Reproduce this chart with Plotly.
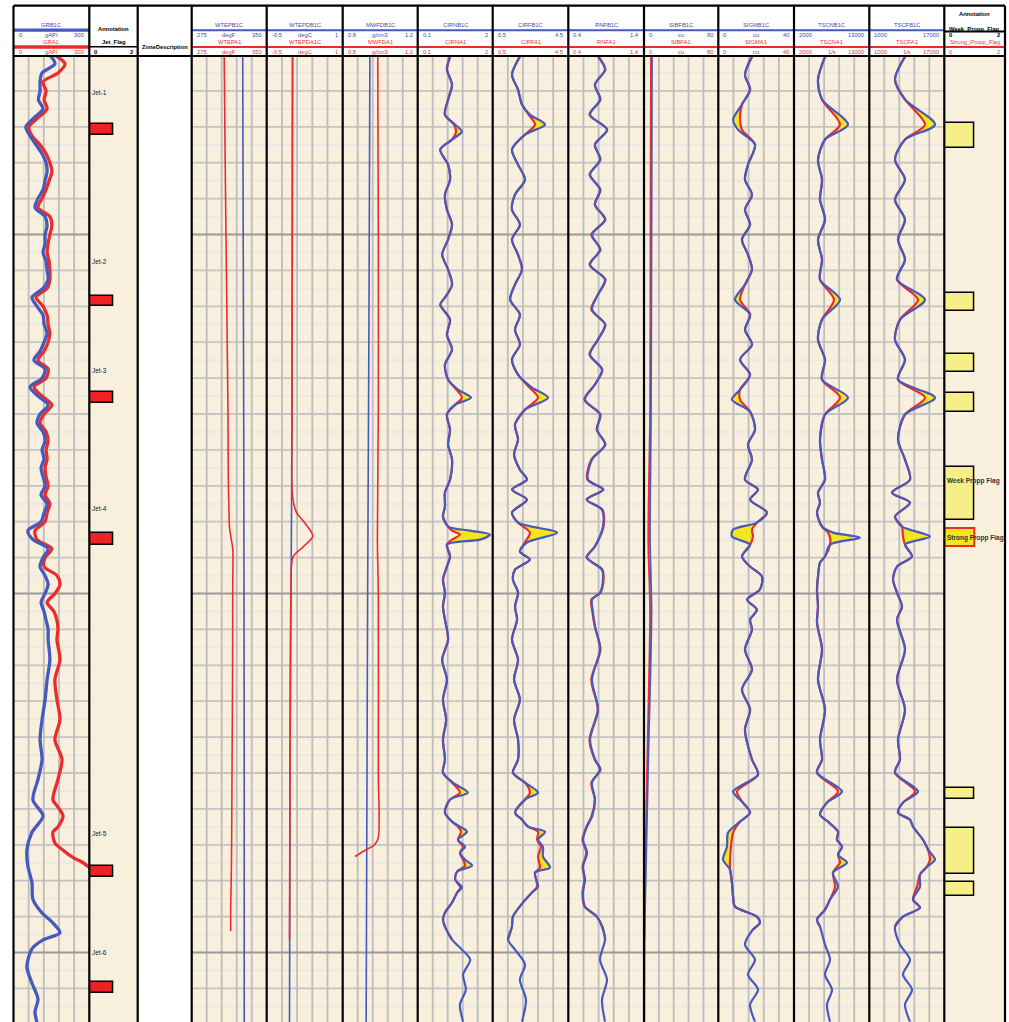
import plotly.graph_objects as go

# ---------------------------------------------------------------- data ----
# Depth is expressed in grid units (one minor grid division = 1 unit).

# Gamma ray (gAPI)
GR_DEPTH_B = [0, 0.5, 1, 1.5, 2, 2.5, 3, 3.5, 4, 4.5, 5, 5.5, 6, 6.5, 7, 7.5, 8, 8.5, 9, 9.5,
              10, 10.5, 11, 11.5, 12, 12.5, 13, 13.5, 14, 14.5, 15, 15.5, 16, 16.5, 17, 17.5,
              18, 18.5, 19, 19.5, 20, 20.5, 21, 21.5, 22, 22.5, 23, 23.5, 24, 24.5, 25, 25.5,
              26, 26.5, 27, 27.5, 28, 28.5, 29, 29.5, 30, 30.5, 31, 31.5, 32,
              32.57, 33.68, 34.8, 35.91, 37.03, 38.14, 39.25, 40.35, 41.5, 42.4, 43.3, 44.3,
              45.2, 46.1, 47.05, 47.8, 48.3, 48.9, 49.3, 49.8, 50.8, 51.7, 52.6, 53.3, 53.9]
GRB1C = [144, 164, 113, 105, 105, 99, 117, 81, 49, 65, 89, 113, 129, 133, 125, 117, 97, 85, 125, 133,
         125, 125, 117, 129, 133, 137, 117, 73, 93, 117, 121, 133, 121, 105, 81, 125,
         113, 65, 97, 137, 105, 93, 117, 125, 113, 121, 109, 117, 125, 109, 133, 121,
         109, 57, 77, 137, 117, 105, 125, 137, 125, 109, 121, 129, 137,
         137, 144, 133, 125, 113, 105, 113, 97, 77, 117, 73, 53,
         57, 73, 77, 113, 152, 184, 117, 73, 53, 73, 97, 85, 93]
GR_DEPTH_A = [0, 0.5, 1, 1.5, 2, 2.5, 3, 3.5, 4, 4.5, 5, 5.5, 6, 6.5, 7, 7.5, 8, 8.5, 9, 9.5,
              10, 10.5, 11, 11.5, 12, 12.5, 13, 13.5, 14, 14.5, 15, 15.5, 16, 16.5, 17, 17.5,
              18, 18.5, 19, 19.5, 20, 20.5, 21, 21.5, 22, 22.5, 23, 23.5, 24, 24.5, 25, 25.5,
              26, 26.5, 27, 27.5, 28, 28.5, 29, 29.5, 30, 30.5, 31, 31.5, 32,
              32.57, 33.68, 34.8, 35.91, 37.03, 38.14, 39.25, 40.35, 41.5, 41.9, 42.4, 43.0,
              43.3, 43.9, 44.3, 44.7, 45.0, 45.2, 45.4]
GRA1 = [164, 204, 176, 117, 129, 121, 133, 97, 61, 73, 105, 129, 144, 152, 141, 129, 113, 97, 144, 152,
        144, 137, 133, 141, 144, 144, 133, 89, 117, 133, 137, 144, 137, 121, 97, 137,
        129, 81, 113, 152, 121, 105, 129, 137, 129, 133, 125, 129, 137, 125, 144, 133,
        125, 85, 93, 152, 125, 121, 172, 184, 164, 133, 160, 172, 176,
        172, 184, 164, 172, 184, 164, 192, 176, 156, 176, 196, 176,
        156, 164, 196, 235, 275, 295, 315]

# Wellbore temperature (degF)
WTEP_DEPTH_B = [0, 10, 20, 30, 40, 53.9]
WTEPB1C = [326.0, 326.5, 327.0, 327.3, 327.5, 327.5]
WTEP_DEPTH_A = [0, 5, 10, 15, 20, 23.5, 25.5, 26.3, 26.9, 27.5, 30, 35, 40, 45, 47.5, 48.8]
WTEPA1 = [307.5, 308.3, 309.3, 310.3, 311.3, 311.6, 312.3, 312.8, 314.3, 316.0, 316.0, 315.8,
          315.3, 314.8, 314.0, 314.0]

# Temperature difference (degC)
WTEPD_DEPTH_B = [0, 20, 30, 40, 53.9]
WTEPDB1C = [0.01, 0.0, -0.02, -0.04, -0.05]
WTEPD_DEPTH_A = [0, 20, 24.6, 25.5, 26.1, 26.8, 27.4, 27.95, 30, 40, 49.3]
WTEPDA1C = [0.01, 0.0, 0.01, 0.09, 0.26, 0.41, 0.22, 0.02, -0.02, -0.04, -0.05]

# Wellbore fluid density (g/cm3)
MWFD_DEPTH_B = [0, 15, 30, 45, 53.9]
MWFDB1C = [0.945, 0.940, 0.933, 0.928, 0.925]
MWFD_DEPTH_A = [0, 10, 20, 27, 30, 40, 43.6, 44.0, 44.3, 44.65]
MWFDA1 = [0.987, 0.990, 0.990, 0.985, 0.990, 0.990, 0.990, 0.970, 0.920, 0.865]

# Near capture count rate ratio
CIRN_DEPTH = [0.09, 0.81, 1.65, 2.48, 3.32, 3.88, 4.27, 4.71, 5.27, 6.11, 6.94, 7.78, 8.61, 9.45,
              10.28, 11.12, 11.95, 12.79, 13.52, 13.90, 14.74, 15.58, 16.41, 17.25, 18.08, 18.64,
              19.09, 19.48, 20.03, 20.87, 21.70, 22.54, 23.65, 24.38, 25.16, 25.71, 26.27, 26.50,
              26.72, 27.00, 27.28, 27.94, 28.50, 29.22, 29.95, 30.73, 31.45, 32.57, 33.68, 34.80,
              35.91, 37.03, 38.14, 39.25, 39.98, 40.54, 41.09, 41.48, 42.21, 42.71, 42.99, 43.27,
              43.72, 44.11, 44.44, 44.83, 45.16, 45.49, 45.94, 46.38, 46.66, 47.22, 47.78, 48.17,
              48.56, 49.28, 49.84, 50.40, 51.23, 52.07, 52.90, 53.85]
CIRNB1C = [0.92, 0.84, 0.97, 0.87, 0.79, 1.05, 1.22, 0.97, 0.67, 0.87, 0.92, 0.79, 0.84, 0.97,
           0.87, 0.72, 0.87, 0.97, 0.79, 0.67, 0.92, 0.84, 0.97, 0.79, 0.87, 1.12,
           1.45, 1.05, 0.84, 0.92, 0.87, 0.97, 0.92, 0.79, 0.79, 0.74, 0.87, 1.43,
           1.93, 1.68, 0.84, 0.92, 0.84, 0.74, 0.79, 0.74, 0.79, 0.87, 0.72, 0.84,
           0.74, 0.82, 0.74, 0.79, 0.74, 0.99, 1.37, 0.92, 0.79, 0.97, 1.17, 1.35,
           1.12, 1.30, 1.17, 1.30, 1.48, 1.10, 1.05, 1.22, 1.10, 0.97, 0.79, 0.74,
           0.79, 0.97, 1.22, 1.43, 1.25, 1.32, 1.17, 1.25]
CIRNA1 = [0.92, 0.84, 0.97, 0.87, 0.79, 1.02, 1.07, 0.97, 0.67, 0.87, 0.92, 0.79, 0.84, 0.97,
          0.87, 0.72, 0.87, 0.97, 0.79, 0.67, 0.92, 0.84, 0.97, 0.79, 0.87, 1.08,
          1.22, 1.05, 0.84, 0.92, 0.87, 0.97, 0.92, 0.79, 0.79, 0.74, 0.87, 0.97,
          1.17, 0.97, 0.84, 0.92, 0.84, 0.74, 0.79, 0.74, 0.79, 0.87, 0.72, 0.84,
          0.74, 0.82, 0.74, 0.79, 0.74, 0.97, 1.17, 0.92, 0.79, 0.97, 1.12, 1.20,
          1.12, 1.25, 1.17, 1.25, 1.30, 1.10, 1.05, 1.18, 1.10, 0.97, 0.79, 0.74,
          0.79, 0.97]

# Far capture count rate ratio
CIRF_DEPTH = [0.09, 1.09, 1.93, 2.76, 3.32, 3.88, 4.43, 5.27, 6.11, 6.94, 7.78, 8.61, 9.45, 10.28,
              11.12, 11.95, 12.79, 13.63, 14.46, 15.30, 16.13, 16.97, 17.81, 18.53, 19.09, 19.76,
              20.59, 21.42, 22.26, 23.10, 23.65, 24.21, 24.77, 25.49, 26.05, 26.61, 27.16, 27.67,
              28.11, 28.67, 29.22, 29.95, 30.73, 31.45, 32.57, 33.68, 34.80, 35.91, 37.03, 38.14,
              39.25, 39.98, 40.54, 41.09, 41.48, 42.21, 42.60, 42.99, 43.27, 43.72, 44.11, 44.66,
              45.27, 45.55, 46.33, 46.66, 47.22, 48.00, 48.56, 49.28, 49.84, 50.67, 51.51, 52.63,
              53.85]
CIRFB1C = [1.94, 1.52, 1.84, 2.05, 2.47, 3.27, 2.21, 1.52, 1.84, 2.21, 1.68, 1.52, 1.94, 1.52,
           1.84, 2.05, 1.68, 1.42, 1.94, 1.68, 1.94, 1.52, 1.84, 2.58, 3.43, 2.21,
           1.68, 1.84, 1.63, 1.94, 2.31, 1.52, 2.31, 1.52, 1.84, 3.90, 2.31, 1.94,
           2.47, 1.68, 1.57, 1.84, 1.68, 1.79, 1.52, 1.84, 1.63, 1.94, 1.63, 1.84,
           1.84, 1.57, 2.21, 2.90, 2.21, 1.68, 2.05, 2.37, 3.27, 2.90, 3.16, 3.16,
           3.53, 2.74, 2.90, 2.58, 2.10, 1.57, 1.52, 1.31, 1.68, 2.21, 1.94, 2.26,
           2.05]
CIRFA1 = [1.94, 1.52, 1.84, 2.05, 2.40, 2.74, 2.21, 1.52, 1.84, 2.21, 1.68, 1.52, 1.94, 1.52,
          1.84, 2.05, 1.68, 1.42, 1.94, 1.68, 1.94, 1.52, 1.84, 2.45, 2.90, 2.21,
          1.68, 1.84, 1.63, 1.94, 2.31, 1.52, 2.31, 1.52, 1.84, 2.47, 2.20, 1.94,
          2.47, 1.68, 1.57, 1.84, 1.68, 1.79, 1.52, 1.84, 1.63, 1.94, 1.63, 1.84,
          1.84, 1.57, 2.21, 2.47, 2.21, 1.68, 2.05, 2.37, 2.90, 2.85, 3.05, 2.90,
          3.00, 2.74, 2.85, 2.58, 2.10, 1.57, 1.52, 1.31]

# Near / far ratio
RNF_DEPTH = [0.09, 0.81, 1.65, 2.48, 3.32, 4.16, 4.99, 5.83, 6.66, 7.50, 8.33, 9.17, 10.00, 10.84,
             11.68, 12.51, 13.35, 14.18, 15.02, 15.86, 16.69, 17.53, 18.36, 19.20, 20.03, 20.87,
             21.70, 22.54, 23.65, 24.21, 24.77, 25.33, 26.27, 27.38, 27.99, 28.67, 29.22, 29.95,
             30.34, 31.06, 31.84, 33.12, 34.80, 36.47, 38.14, 39.25, 39.81, 40.54, 41.48, 42.43,
             42.99, 43.72, 44.44, 45.22, 45.94, 46.66, 47.44, 48.00, 48.56, 49.28, 50.40, 51.51,
             52.63, 53.85]
RNFB1C = [0.792, 0.885, 0.753, 0.819, 0.687, 0.911, 0.753, 0.819, 0.687, 0.819, 0.753, 0.885,
          0.713, 0.819, 0.687, 0.885, 0.792, 0.713, 0.885, 0.792, 0.687, 0.845, 0.753, 0.620,
          0.819, 0.779, 0.885, 0.713, 0.660, 0.858, 0.647, 0.845, 0.858, 0.753, 0.647, 0.845,
          0.858, 0.819, 0.713, 0.726, 0.753, 0.819, 0.713, 0.792, 0.687, 0.753, 0.819, 0.713,
          0.753, 0.713, 0.647, 0.594, 0.647, 0.594, 0.620, 0.594, 0.620, 0.779, 0.845, 0.885,
          0.819, 0.911, 0.845, 0.885]
RNFA1 = [0.800, 0.890, 0.750, 0.825, 0.680, 0.915, 0.750, 0.825, 0.680, 0.825, 0.750, 0.890,
         0.705, 0.825, 0.680, 0.890, 0.790, 0.705, 0.890, 0.790, 0.680, 0.850, 0.750, 0.612,
         0.825, 0.775, 0.890, 0.705, 0.652, 0.865, 0.640, 0.850, 0.865, 0.750, 0.640, 0.850,
         0.865, 0.825, 0.705, 0.720, 0.750, 0.825, 0.705, 0.790, 0.680, 0.750, 0.825, 0.705,
         0.750, 0.705, 0.640, 0.588, 0.640, 0.588, 0.615, 0.588, 0.615, 0.775, 0.850, 0.890]

# Borehole sigma (cu)
SIBF_DEPTH_B = [0, 10, 20, 27, 31, 39.3, 45, 49.5, 53.9]
SIBFB1C = [8.6, 8.1, 7.5, 6.5, 8.1, 4.6, 2.2, 0.6, 0.3]
SIBF_DEPTH_A = [0, 10, 20, 27, 31, 39.3, 45, 49.3]
SIBFA1 = [7.5, 7.0, 6.5, 4.6, 6.5, 3.5, 1.5, 0.3]

# Formation sigma (cu)
SIGM_DEPTH = [0.09, 1.09, 1.93, 2.76, 3.60, 4.16, 4.99, 6.11, 6.94, 7.78, 8.61, 9.45, 10.28, 11.12,
              11.95, 12.79, 13.63, 14.46, 15.30, 16.13, 16.97, 17.81, 18.64, 19.20, 19.87, 20.87,
              21.70, 22.54, 23.65, 24.21, 24.77, 25.49, 26.05, 26.44, 26.83, 27.28, 27.94, 28.50,
              29.06, 29.78, 30.34, 30.90, 31.45, 32.01, 33.12, 34.24, 35.35, 36.47, 37.58, 39.25,
              40.09, 41.03, 41.65, 42.21, 42.71, 43.33, 44.11, 44.83, 45.38, 46.10, 46.88, 47.44,
              48.00, 48.34, 48.72, 49.56, 50.40, 51.23, 52.07, 52.90, 53.85]
SIGMB1C = [17.8, 14.1, 16.8, 12.5, 7.8, 10.4, 19.4, 15.7, 14.1, 17.8, 14.1, 16.8, 12.5, 15.7,
           17.8, 14.1, 8.8, 16.8, 14.1, 17.8, 11.5, 16.8, 11.5, 7.2, 16.8, 19.4,
           15.7, 17.8, 14.1, 21.0, 16.8, 25.7, 20.4, 7.8, 7.2, 16.8, 12.5, 16.8,
           23.1, 22.0, 15.2, 20.4, 16.8, 17.8, 14.1, 17.8, 12.5, 16.8, 14.1, 17.8,
           21.0, 7.8, 13.0, 16.8, 11.5, 5.1, 4.6, 2.5, 6.2, 7.2, 7.8, 8.8,
           20.4, 22.0, 18.3, 14.1, 19.4, 15.7, 21.0, 16.8, 19.4]
SIGMA1 = [17.8, 14.1, 16.8, 12.5, 11.5, 12.5, 19.4, 15.7, 14.1, 17.8, 14.1, 16.8, 12.5, 15.7,
          17.8, 14.1, 11.5, 16.8, 14.1, 17.8, 11.5, 16.8, 11.5, 11.5, 16.8, 19.4,
          15.7, 17.8, 14.1, 21.0, 16.8, 25.7, 20.4, 17.8, 18.3, 16.8, 12.5, 16.8,
          23.1, 22.0, 15.2, 20.4, 16.8, 17.8, 14.1, 17.8, 12.5, 16.8, 14.1, 17.8,
          21.0, 9.9, 13.0, 16.8, 11.5, 7.8, 6.7, 6.2, 6.2, 7.2, 7.8, 8.8,
          20.4, 22.0, 18.3]

# Near capture count rate (1/s)
TSCN_DEPTH = [0.09, 1.37, 2.48, 3.88, 4.71, 5.83, 6.94, 8.06, 9.17, 10.28, 11.40, 12.51, 13.63,
              14.74, 15.86, 16.97, 18.08, 19.09, 20.03, 21.42, 22.54, 23.65, 24.38, 24.94, 25.49,
              26.27, 26.61, 26.89, 27.28, 27.94, 28.28, 29.06, 29.78, 30.73, 31.62, 33.12, 34.80,
              36.47, 38.14, 39.25, 39.98, 41.03, 41.65, 42.32, 42.71, 43.27, 43.72, 44.11, 44.55,
              44.99, 45.55, 46.33, 47.05, 47.61, 48.17, 48.56, 49.56, 50.40, 51.23, 52.07, 52.90,
              53.85]
TSCNB1C = [6529, 5506, 6091, 9889, 6529, 5506, 6091, 5799, 6529, 5506, 6091, 5799, 8721,
           6091, 5506, 6529, 6091, 9889, 6529, 5799, 6091, 6529, 5506, 5799, 5360,
           6091, 7698, 11643, 7260, 6529, 5799, 5506, 5360, 5506, 5360, 6091, 5506,
           6529, 5799, 6091, 5360, 9013, 6821, 5799, 6967, 8428, 8282, 9013, 8428,
           9743, 7698, 8428, 7260, 6529, 5360, 5799, 6529, 7260, 6529, 7552, 6821,
           7260]
TSCNA1 = [6529, 5506, 6091, 8721, 6529, 5506, 6091, 5799, 6529, 5506, 6091, 5799, 7844,
          6091, 5506, 6529, 6091, 8721, 6529, 5799, 6091, 6529, 5506, 5799, 5360,
          6091, 6967, 7260, 7260, 6529, 5799, 5506, 5360, 5506, 5360, 6091, 5506,
          6529, 5799, 6091, 5360, 8428, 6821, 5799, 6967, 8428, 8282, 9013, 8428,
          8721, 7698, 7990, 7260, 6529, 5360, 5799]

# Far capture count rate (1/s)
TSCF_DEPTH = [0.09, 1.37, 2.48, 3.88, 4.71, 5.83, 6.94, 8.06, 9.17, 10.28, 11.40, 12.51, 13.63,
              14.74, 15.86, 16.97, 18.08, 19.09, 20.03, 21.42, 22.54, 23.65, 24.38, 24.94, 25.71,
              26.27, 26.83, 27.28, 27.94, 28.50, 29.22, 29.95, 30.73, 31.45, 33.12, 34.80, 36.47,
              38.14, 39.25, 39.98, 41.03, 41.65, 42.21, 42.60, 42.99, 43.72, 44.27, 44.83, 45.22,
              45.66, 46.33, 47.05, 47.50, 48.00, 48.56, 49.56, 50.40, 51.23, 52.07, 52.90, 53.85]
TSCFB1C = [8615, 6482, 8615, 15015, 8615, 6482, 8615, 6482, 8615, 7122, 8615, 6909, 12882,
           7548, 6482, 8615, 7122, 15015, 8615, 7122, 8615, 9682, 5842, 9682, 6482,
           7975, 13949, 8615, 10109, 6909, 6055, 6909, 7975, 6909, 8615, 6909, 8615,
           7122, 7548, 6482, 11389, 8189, 7122, 9682, 10322, 12455, 13522, 15015, 13309,
           11815, 11815, 10322, 11815, 8189, 6482, 7548, 9682, 8189, 10109, 8615, 9682]
TSCFA1 = [8615, 6482, 8615, 12882, 8615, 6482, 8615, 6482, 8615, 7122, 8615, 6909, 11389,
          7548, 6482, 8615, 7122, 12882, 8615, 7122, 8615, 9682, 5842, 9682, 6482,
          7975, 8189, 8615, 10109, 6909, 6055, 6909, 7975, 6909, 8615, 6909, 8615,
          7122, 7548, 6482, 10749, 8189, 7122, 9682, 10322, 12455, 13522, 13949, 13309,
          11815, 11175, 10322, 11815, 8189, 6482]

# Perforation jets
JET_DEPTH = [4.14, 13.72, 19.10, 26.95, 45.50, 51.95]
JET_THICK = [0.60, 0.56, 0.60, 0.65, 0.62, 0.60]
JET_FLAG = [1, 1, 1, 1, 1, 1]
JET_LABEL = ["Jet-1", "Jet-2", "Jet-3", "Jet-4", "Jet-5", "Jet-6"]
JET_LABEL_DEPTH = [2.11, 11.53, 17.58, 25.27, 43.37, 49.99]

# Proppant flags
WEEK_DEPTH = [4.46, 13.74, 17.14, 19.34, 24.43, 41.13, 44.34, 46.45]
WEEK_THICK = [1.39, 1.00, 1.00, 1.06, 3.00, 0.61, 2.56, 0.76]
WEEK_FLAG = [1, 1, 1, 1, 1, 1, 1, 1]
STRONG_DEPTH = [26.86]
STRONG_THICK = [1.02]
STRONG_FLAG = [1]

# ------------------------------------------------------------- styling ----
W, H = 1009, 1022
TOP = 55
PLOT_H = H - TOP
D_MAX = PLOT_H / 17.95

EDGES = [13.5, 89.3, 137.7, 191.7, 266.7, 342.7, 417.7, 492.7, 568.3, 644.0,
         718.3, 794.0, 869.3, 944.3, 1005.0]

BLUE = "#4659bd"
RED = "#ee2b2b"
YELLOW = "#f3e51f"
WEEK_YELLOW = "#f6ee86"
BEIGE = "#f8efdd"
BLUE_TXT = "#3c4db3"
RED_TXT = "#e8332f"
GRID_GREY = "#c4c4c4"
GRID_LIGHT = "#e9e9e7"
GRID_DARK = "#9a9a9a"
FONT = "Liberation Sans, Arial, sans-serif"

RANGES = [(0, 300), (0, 2), (0, 1), (275, 350), (-0.5, 1), (0.8, 1.2), (0.1, 2), (0.5, 4.5),
          (0.4, 1.4), (0, 80), (0, 40), (2000, 13000), (1000, 17000), (0, 2)]
GRIDDED = [0, 3, 4, 5, 6, 7, 8, 9, 10, 11, 12]


def px(x):
    return x / W


def py(y):
    return (H - y) / PLOT_H


def ax(i):
    return "x" if i == 0 else "x%d" % (i + 1)


fig = go.Figure()

# ---- grid
for i in GRIDDED:
    lo, hi = RANGES[i]
    odd = [d for d in range(1, 54) if d % 2 == 1]
    even = [d for d in range(2, 54, 2) if d % 20 != 10]
    major = [10, 30, 50]
    groups = [(odd, GRID_LIGHT), (even, GRID_GREY)]
    for depths, color in groups:
        xs, ys = [], []
        for d in depths:
            xs += [lo, hi, None]
            ys += [d, d, None]
        fig.add_trace(go.Scatter(x=xs, y=ys, mode="lines", xaxis=ax(i), yaxis="y",
                                 line=dict(color=color, width=1.8), hoverinfo="skip",
                                 showlegend=False))
    xs, ys = [], []
    for k in range(1, 5):
        v = lo + (hi - lo) * k / 5
        xs += [v, v, None]
        ys += [0, D_MAX, None]
    fig.add_trace(go.Scatter(x=xs, y=ys, mode="lines", xaxis=ax(i), yaxis="y",
                             line=dict(color="#bdbdbd", width=1.8), hoverinfo="skip",
                             showlegend=False))
    xs, ys = [], []
    for d in major:
        xs += [lo, hi, None]
        ys += [d, d, None]
    fig.add_trace(go.Scatter(x=xs, y=ys, mode="lines", xaxis=ax(i), yaxis="y",
                             line=dict(color=GRID_DARK, width=1.8), hoverinfo="skip",
                             showlegend=False))


def line(i, x, y, color, width, shape="spline"):
    fig.add_trace(go.Scatter(x=x, y=y, mode="lines", xaxis=ax(i), yaxis="y",
                             line=dict(color=color, width=width, shape=shape, smoothing=0.8),
                             hoverinfo="skip", showlegend=False))


def filled_pair(i, depth, blue, red, width=2.2):
    n = len(red)
    # yellow separation between the two passes
    fig.add_trace(go.Scatter(x=red, y=depth[:n], mode="lines", xaxis=ax(i), yaxis="y",
                             line=dict(width=0, shape="spline", smoothing=0.8),
                             hoverinfo="skip", showlegend=False))
    fig.add_trace(go.Scatter(x=blue[:n], y=depth[:n], mode="lines", xaxis=ax(i), yaxis="y",
                             line=dict(width=0, shape="spline", smoothing=0.8),
                             fill="tonextx", fillcolor=YELLOW,
                             hoverinfo="skip", showlegend=False))
    line(i, red, depth[:n], RED, width)
    line(i, blue, depth, BLUE, width)


# ---- curves
line(0, GRA1, GR_DEPTH_A, RED, 3.3)
line(0, GRB1C, GR_DEPTH_B, BLUE, 3.3)
line(3, WTEPA1, WTEP_DEPTH_A, RED, 1.6)
line(3, WTEPB1C, WTEP_DEPTH_B, BLUE, 1.6)
line(4, WTEPDB1C, WTEPD_DEPTH_B, BLUE, 1.6)
line(4, WTEPDA1C, WTEPD_DEPTH_A, RED, 1.6)
line(5, MWFDB1C, MWFD_DEPTH_B, BLUE, 1.6)
line(5, MWFDA1, MWFD_DEPTH_A, RED, 1.6)
filled_pair(6, CIRN_DEPTH, CIRNB1C, CIRNA1)
filled_pair(7, CIRF_DEPTH, CIRFB1C, CIRFA1)
line(8, RNFA1, RNF_DEPTH[:len(RNFA1)], RED, 2.2)
line(8, RNFB1C, RNF_DEPTH, BLUE, 2.2)
line(9, SIBFA1, SIBF_DEPTH_A, RED, 1.8)
line(9, SIBFB1C, SIBF_DEPTH_B, BLUE, 1.8)
filled_pair(10, SIGM_DEPTH, SIGMB1C, SIGMA1)
filled_pair(11, TSCN_DEPTH, TSCNB1C, TSCNA1)
filled_pair(12, TSCF_DEPTH, TSCFB1C, TSCFA1)

# ---- flags
fig.add_trace(go.Bar(x=JET_FLAG, y=JET_DEPTH, width=JET_THICK, base=0, orientation="h",
                     xaxis=ax(1), yaxis="y", marker=dict(color="#ee2222",
                     line=dict(color="black", width=1.5)), hoverinfo="skip", showlegend=False))
fig.add_trace(go.Bar(x=WEEK_FLAG, y=WEEK_DEPTH, width=WEEK_THICK, base=0, orientation="h",
                     xaxis=ax(13), yaxis="y", marker=dict(color=WEEK_YELLOW,
                     line=dict(color="black", width=1.5)), hoverinfo="skip", showlegend=False))
fig.add_trace(go.Bar(x=STRONG_FLAG, y=STRONG_DEPTH, width=STRONG_THICK, base=0,
                     orientation="h", xaxis=ax(13), yaxis="y",
                     marker=dict(color=YELLOW, line=dict(color=RED, width=2)),
                     hoverinfo="skip", showlegend=False))

annotations = []
for lab, d in zip(JET_LABEL, JET_LABEL_DEPTH):
    annotations.append(dict(x=0.02, y=d, xref=ax(1), yref="y", text=lab, showarrow=False,
                            xanchor="left", yanchor="middle",
                            font=dict(family=FONT, size=6.5, color="#222")))
annotations.append(dict(x=0.03, y=23.75, xref=ax(13), yref="y", text="<b>Week Propp Flag</b>",
                        showarrow=False, xanchor="left", yanchor="middle",
                        font=dict(family=FONT, size=6.5, color="#333")))
annotations.append(dict(x=0.03, y=26.89, xref=ax(13), yref="y", text="<b>Strong Propp Flag</b>",
                        showarrow=False, xanchor="left", yanchor="middle",
                        font=dict(family=FONT, size=6.5, color="#333")))

# ---- header
HEADER = [
    # track, blue name, red name, blue unit, red unit, left, right
    (0, "GRB1C", "GRA1", "gAPI", "gAPI", "0", "300"),
    (3, "WTEPB1C", "WTEPA1", "degF", "degF", "275", "350"),
    (4, "WTEPDB1C", "WTEPDA1C", "degC", "degC", "-0.5", "1"),
    (5, "MWFDB1C", "MWFDA1", "g/cm3", "g/cm3", "0.8", "1.2"),
    (6, "CIRNB1C", "CIRNA1", "", "", "0.1", "2"),
    (7, "CIRFB1C", "CIRFA1", "", "", "0.5", "4.5"),
    (8, "RNFB1C", "RNFA1", "", "", "0.4", "1.4"),
    (9, "SIBFB1C", "SIBFA1", "cu", "cu", "0", "80"),
    (10, "SIGMB1C", "SIGMA1", "cu", "cu", "0", "40"),
    (11, "TSCNB1C", "TSCNA1", "", "1/s", "2000", "13000"),
    (12, "TSCFB1C", "TSCFA1", "", "1/s", "1000", "17000"),
]

shapes = []


def hline(x0, x1, y, color, width):
    shapes.append(dict(type="line", xref="paper", yref="paper", x0=px(x0), x1=px(x1),
                       y0=py(y), y1=py(y), line=dict(color=color, width=width)))


def text(x, y, s, color="black", anchor="center", size=5.8):
    annotations.append(dict(x=px(x), y=py(y), xref="paper", yref="paper", text=s,
                            showarrow=False, xanchor=anchor, yanchor="middle",
                            font=dict(family=FONT, size=size, color=color)))


for (i, bn, rn, bu, ru, lo, hi) in HEADER:
    x0, x1 = EDGES[i], EDGES[i + 1]
    xc = (x0 + x1) / 2
    lw = 3.3 if i == 0 else 2.0
    text(xc, 25, bn, BLUE_TXT)
    hline(x0, x1, 30.2, BLUE, lw)
    text(x0 + 3, 34.6, lo, BLUE_TXT, "left")
    text(xc, 34.6, bu, BLUE_TXT)
    text(x1 - 3, 34.6, hi, BLUE_TXT, "right")
    text(xc, 42.2, rn, RED_TXT)
    hline(x0, x1, 47.0, RED, lw)
    text(x0 + 3, 51.6, lo, RED_TXT, "left")
    text(xc, 51.6, ru, RED_TXT)
    text(x1 - 3, 51.6, hi, RED_TXT, "right")

# jet flag header
x0, x1 = EDGES[1], EDGES[2]
text((x0 + x1) / 2, 29.5, "<b>Annotation</b>")
text((x0 + x1) / 2, 42.5, "<b>Jet_Flag</b>")
hline(x0, x1, 46.8, "black", 1.5)
text(x0 + 3, 51.6, "<b>0</b>", anchor="left")
text(x1 - 3, 51.6, "<b>2</b>", anchor="right")
# zone description header
x0, x1 = EDGES[2], EDGES[3]
text((x0 + x1) / 2, 47.3, "<b>ZoneDescription</b>")
# proppant flag header
x0, x1 = EDGES[13], EDGES[14]
text((x0 + x1) / 2, 14, "<b>Annotation</b>")
text((x0 + x1) / 2, 29.2, "<b>Week_Propp_Flag</b>")
hline(x0, x1, 31.6, "black", 2)
text(x0 + 3, 35.0, "<b>0</b>", anchor="left")
text(x1 - 3, 35.0, "<b>2</b>", anchor="right")
text((x0 + x1) / 2, 42.3, "Strong_Propp_Flag", RED_TXT)
hline(x0, x1, 47.0, RED, 2)
text(x0 + 3, 51.6, "0", RED_TXT, "left")
text(x1 - 3, 51.6, "2", RED_TXT, "right")

# zone description body is plain white
shapes.append(dict(type="rect", xref="paper", yref="paper", x0=px(EDGES[2]), x1=px(EDGES[3]),
                   y0=0, y1=1, fillcolor="white", line=dict(width=0), layer="below"))

# frame
for e in EDGES:
    shapes.append(dict(type="line", xref="paper", yref="paper", x0=px(e), x1=px(e),
                       y0=py(5.7), y1=0, line=dict(color="black", width=2.2)))
hline(EDGES[0], EDGES[-1], 5.7, "black", 2.2)
hline(EDGES[0], EDGES[-1], 56.0, "black", 2.2)

layout = dict(width=W, height=H, margin=dict(l=0, r=0, t=TOP, b=0, pad=0),
              paper_bgcolor="white", plot_bgcolor=BEIGE, showlegend=False,
              shapes=shapes, annotations=annotations, bargap=0,
              yaxis=dict(domain=[0, 1], range=[D_MAX, 0], visible=False, fixedrange=True))
for i in range(14):
    key = "xaxis" if i == 0 else "xaxis%d" % (i + 1)
    layout[key] = dict(domain=[px(EDGES[i]), px(EDGES[i + 1])], range=list(RANGES[i]),
                       visible=False, fixedrange=True, anchor="y")
fig.update_layout(**layout)

fig.write_html("out.html")
